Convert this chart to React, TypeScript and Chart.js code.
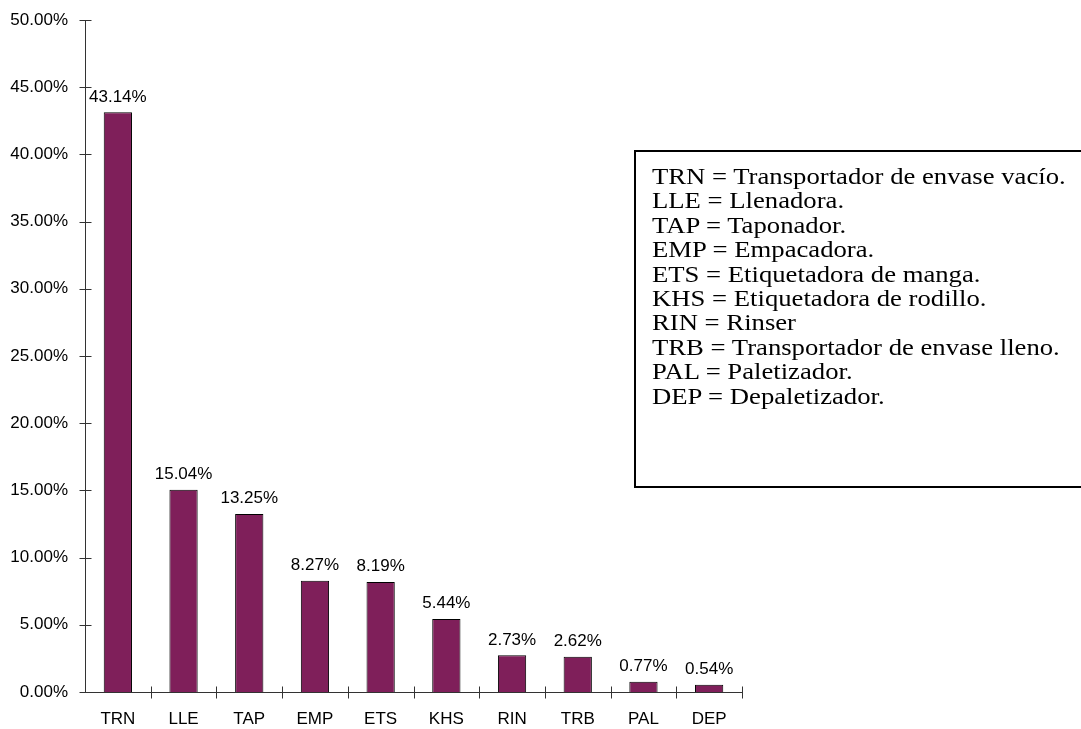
import React, { useEffect, useRef } from "react";
import { Chart, registerables } from "chart.js";

Chart.register(...registerables);

// Equipment codes and their share of total stoppages (%)
const categories = ["TRN", "LLE", "TAP", "EMP", "ETS", "KHS", "RIN", "TRB", "PAL", "DEP"];
const shares = [43.14, 15.04, 13.25, 8.27, 8.19, 5.44, 2.73, 2.62, 0.77, 0.54];
const legendLines = [
  "TRN = Transportador de envase vacío.",
  "LLE = Llenadora.",
  "TAP = Taponador.",
  "EMP = Empacadora.",
  "ETS = Etiquetadora de manga.",
  "KHS = Etiquetadora de rodillo.",
  "RIN = Rinser",
  "TRB = Transportador de envase lleno.",
  "PAL = Paletizador.",
  "DEP = Depaletizador.",
];

const SANS = "'Liberation Sans', Arial, sans-serif";
const AXIS_COLOR = "#333333";

// Axis lines with tick marks crossing them, plus value labels over bars
const axesAndLabels = {
  id: "axesAndLabels",
  afterDraw(chart: any) {
    const ctx = chart.ctx;
    const xs = chart.scales.x;
    const ys = chart.scales.y;
    const left = Math.round(xs.left) + 0.5;
    const bottom = Math.round(ys.bottom) + 0.5;
    ctx.save();
    ctx.strokeStyle = AXIS_COLOR;
    ctx.lineWidth = 1;
    ctx.beginPath();
    ctx.moveTo(left, Math.round(ys.top) + 0.5);
    ctx.lineTo(left, bottom);
    ctx.lineTo(Math.round(xs.right) + 0.5, bottom);
    ys.ticks.forEach((_t: any, i: number) => {
      const py = Math.round(ys.getPixelForTick(i)) + 0.5;
      ctx.moveTo(left - 6, py);
      ctx.lineTo(left + 6, py);
    });
    const n = categories.length;
    for (let i = 1; i <= n; i++) {
      const px = Math.round(xs.left + (i * (xs.right - xs.left)) / n) + 0.5;
      ctx.moveTo(px, bottom - 6);
      ctx.lineTo(px, bottom + 6);
    }
    ctx.stroke();

    ctx.fillStyle = "#000";
    ctx.font = `17px ${SANS}`;
    ctx.textAlign = "center";
    ctx.textBaseline = "alphabetic";
    const meta = chart.getDatasetMeta(0);
    meta.data.forEach((bar: any, i: number) => {
      ctx.fillText(shares[i].toFixed(2) + "%", bar.x, bar.y - 10.5);
    });
    ctx.restore();
  },
};

export default function App() {
  const canvasRef = useRef<HTMLCanvasElement | null>(null);

  useEffect(() => {
    if (!canvasRef.current) return;
    const chart = new Chart(canvasRef.current, {
      type: "bar",
      data: {
        labels: categories,
        datasets: [
          {
            data: shares,
            backgroundColor: "#7F1F5A",
            borderColor: "#000000",
            borderWidth: 1,
            categoryPercentage: 1,
            barPercentage: 0.43,
          },
        ],
      },
      options: {
        responsive: false,
        animation: false,
        layout: { padding: { left: 0, right: 339, top: 20, bottom: 0 } },
        plugins: { legend: { display: false }, tooltip: { enabled: false } },
        scales: {
          x: {
            grid: { display: false, drawTicks: false },
            border: { display: false },
            ticks: { color: "#000", font: { family: SANS, size: 17 }, padding: 17 },
            afterFit: (s: any) => {
              s.height = 37;
              s.paddingLeft = 0;
              s.paddingRight = 0;
            },
          },
          y: {
            min: 0,
            max: 50,
            grid: { display: false, drawTicks: false },
            border: { display: false },
            ticks: {
              stepSize: 5,
              color: "#000",
              font: { family: SANS, size: 17 },
              padding: 17,
              callback: (v: any) => Number(v).toFixed(2) + "%",
            },
            afterFit: (s: any) => {
              s.width = 85;
              s.paddingTop = 0;
              s.paddingBottom = 0;
            },
          },
        },
      },
      plugins: [axesAndLabels],
    });
    return () => chart.destroy();
  }, []);

  return (
    <div
      style={{
        position: "fixed",
        left: 0,
        top: 0,
        width: 1081,
        height: 729,
        overflow: "hidden",
        background: "#fff",
      }}
    >
      <canvas ref={canvasRef} width={1081} height={729} style={{ display: "block" }} />
      <div
        style={{
          position: "absolute",
          left: 634,
          top: 150,
          width: 470,
          height: 338,
          border: "2px solid #000",
          boxSizing: "border-box",
          padding: "13px 0 0 16px",
          fontFamily: "'Liberation Serif', 'Times New Roman', serif",
          fontSize: 23,
          lineHeight: "24.4px",
          color: "#000",
          whiteSpace: "nowrap",
        }}
      >
        <div style={{ transform: "scaleX(1.16)", transformOrigin: "left top" }}>
          {legendLines.map((t) => (
            <div key={t}>{t}</div>
          ))}
        </div>
      </div>
    </div>
  );
}
